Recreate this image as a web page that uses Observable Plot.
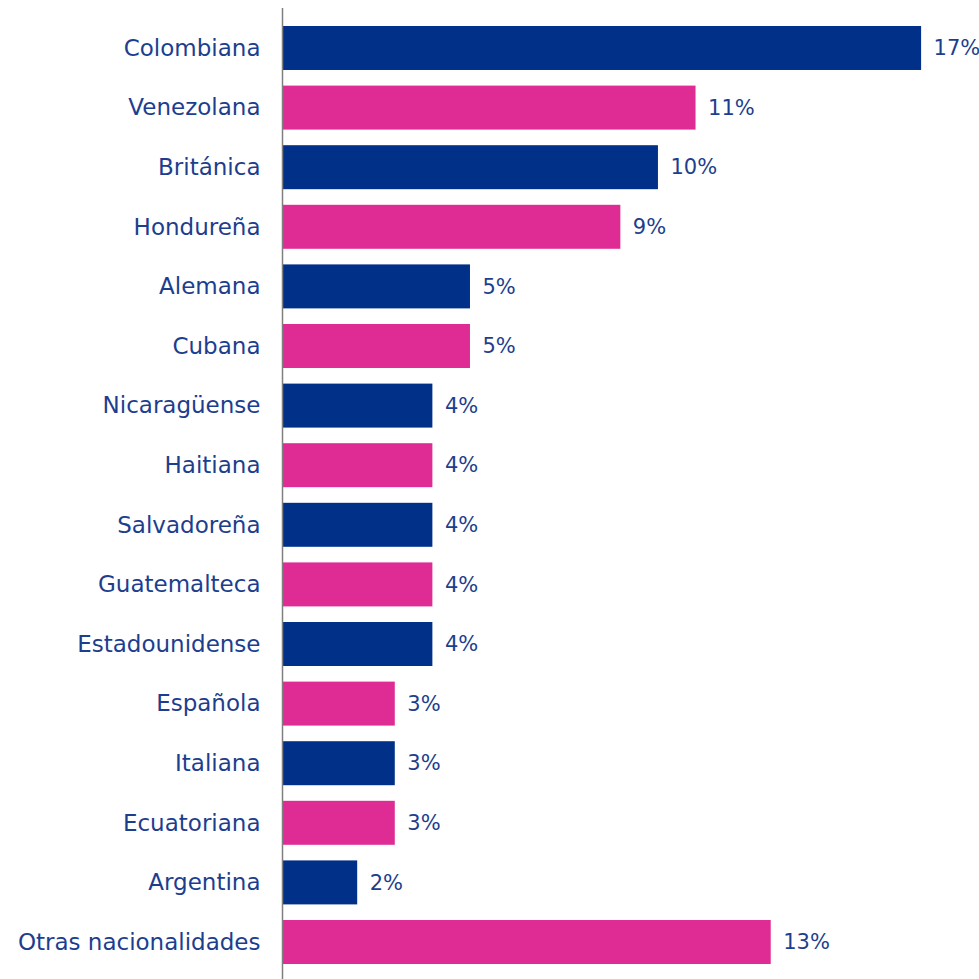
<!DOCTYPE html>
<html>
<head>
<meta charset="utf-8">
<script src="https://cdn.jsdelivr.net/npm/d3@7"></script>
<script src="https://cdn.jsdelivr.net/npm/@observablehq/plot@0.6"></script>
<style>
  html, body { margin: 0; padding: 0; background: #fff; overflow: hidden; }
  #chart svg { display: block; }
</style>
</head>
<body>
<div id="chart"></div>
<script>
const nationalities = ["Colombiana","Venezolana","Británica","Hondureña","Alemana","Cubana","Nicaragüense","Haitiana","Salvadoreña","Guatemalteca","Estadounidense","Española","Italiana","Ecuatoriana","Argentina","Otras nacionalidades"];
const shares = [17,11,10,9,5,5,4,4,4,4,4,3,3,3,2,13];
const colors = ["#003087","#DE2C94"];

const data = nationalities.map((n, i) => ({name: n, value: shares[i], group: i % 2}));

const chart = Plot.plot({
  width: 979,
  height: 982,
  marginLeft: 282,
  marginRight: 0,
  marginTop: 8,
  marginBottom: 0,
  style: {fontFamily: "'DejaVu Sans', sans-serif", color: "#1D3E8E", background: "#fff"},
  x: {domain: [0, 18.54], axis: null},
  y: {domain: nationalities, paddingInner: 0.262, paddingOuter: 0.302, round: false, label: null},
  marks: [
    Plot.barX(data, {x: "value", y: "name", fill: d => colors[d.group]}),
    Plot.text(data, {x: "value", y: "name", text: d => d.value + "%", textAnchor: "start", dx: 12, fontSize: 21, fill: "#1D3E8E"}),
    Plot.axisY({tickSize: 0, tickPadding: 22, fontSize: 23, fill: "#1D3E8E"}),
    Plot.ruleX([0], {stroke: "#7f7f7f", strokeWidth: 1.5})
  ]
});
document.getElementById("chart").appendChild(chart);
</script>
</body>
</html>
